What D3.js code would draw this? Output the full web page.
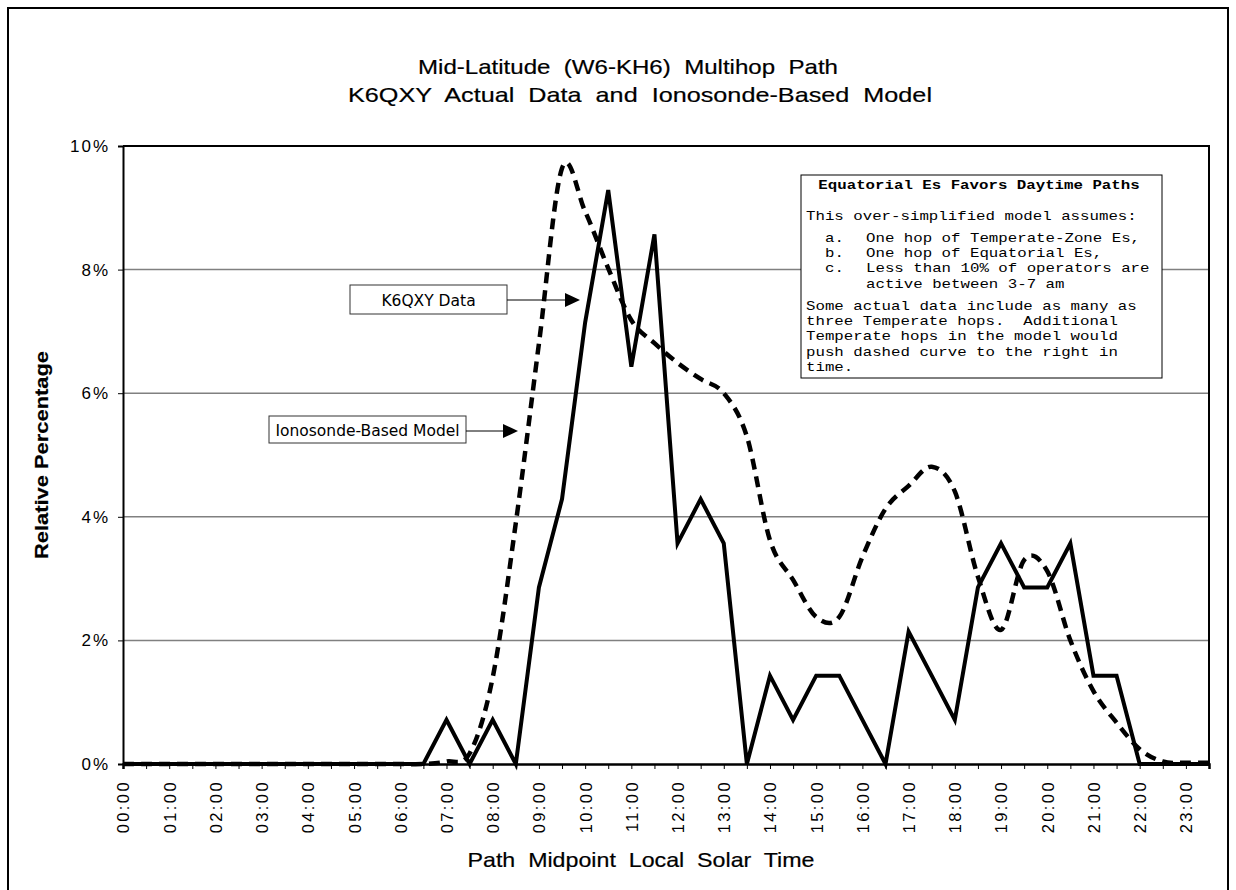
<!DOCTYPE html>
<html>
<head>
<meta charset="utf-8">
<script src="https://cdn.jsdelivr.net/npm/d3@7"></script>
<style>
  body { margin: 0; background: #fff; }
  text { white-space: pre; }
</style>
</head>
<body>
<svg id="chart" width="1236" height="890"></svg>
<script>
// half-hour categories, labelled every full hour
let slots = [];
for (let h = 0; h < 24; h++) {
    let hh = (h < 10 ? "0" : "") + h;
    slots.push(hh + ":00");
    slots.push(hh + ":30");
}

// K6QXY actual data (%), one value per half hour
let actualData = [
    0, 0, 0, 0, 0, 0, 0, 0, 0, 0, 0, 0, 0, 0,
    0.714, 0, 0.714, 0, 2.857, 4.286, 7.143, 9.286, 6.429, 8.571,
    3.571, 4.286, 3.571, 0, 1.429, 0.714, 1.429, 1.429, 0.714, 0,
    2.143, 1.429, 0.714, 2.857, 3.571, 2.857, 2.857, 3.571, 1.429, 1.429,
    0, 0, 0, 0
];

// ionosonde-based model (%), smoothed dashed curve
let modelData = [
    0, 0, 0, 0, 0, 0, 0, 0, 0, 0, 0, 0, 0, 0,
    0.04, 0.17, 1.4, 3.9, 6.8, 9.64, 8.94, 8.02, 7.18, 6.81,
    6.49, 6.23, 6.0, 5.3, 3.62, 2.98, 2.38, 2.38, 3.35, 4.13,
    4.5, 4.81, 4.41, 3.03, 2.17, 3.3, 3.12, 2.0, 1.18, 0.67,
    0.24, 0.04, 0.02, 0.02
];

let yTicks = [0, 2, 4, 6, 8, 10];

let noteLines = [
    "This over-simplified model assumes:"
];
let noteItems = [
    ["a.", "One hop of Temperate-Zone Es,"],
    ["b.", "One hop of Equatorial Es,"],
    ["c.", "Less than 10% of operators are"],
    ["", "active between 3-7 am"]
];
let noteTail = [
    "Some actual data include as many as",
    "three Temperate hops.  Additional",
    "Temperate hops in the model would",
    "push dashed curve to the right in",
    "time."
];

let svg = d3.select("#chart");
let plotLeft = 123, plotRight = 1209, plotTop = 146, plotBottom = 764;

let x = d3.scalePoint().domain(slots).range([plotLeft, plotRight]);
let y = d3.scaleLinear().domain([0, 10]).range([plotBottom, plotTop]);

// outer frame
svg.append("rect")
    .attr("x", 8).attr("y", 8)
    .attr("width", 1220).attr("height", 900)
    .attr("fill", "none").attr("stroke", "#000").attr("stroke-width", 2);

// condensed look: draw a larger font and squeeze it to the measured width
let titleFont = "'Liberation Sans', Arial, sans-serif";
function squeezed(sel, len, size) {
    return sel.attr("textLength", len).attr("lengthAdjust", "spacingAndGlyphs")
        .style("font-family", titleFont).style("font-size", size + "px")
        .attr("stroke", "#000").attr("stroke-width", 0.2);
}

// titles
squeezed(svg.append("text").attr("x", 628).attr("y", 74)
    .attr("text-anchor", "middle"), 420, 21)
    .text("Mid-Latitude  (W6-KH6)  Multihop  Path");
squeezed(svg.append("text").attr("x", 640).attr("y", 102)
    .attr("text-anchor", "middle"), 584, 21)
    .text("K6QXY  Actual  Data  and  Ionosonde-Based  Model");

// gridlines
svg.append("g").selectAll("line")
    .data(yTicks.filter(d => d > 0 && d < 10))
    .enter().append("line")
    .attr("x1", plotLeft).attr("x2", plotRight)
    .attr("y1", d => y(d)).attr("y2", d => y(d))
    .attr("stroke", "#808080").attr("stroke-width", 1.5);

// plot frame top/right
svg.append("path")
    .attr("d", `M${plotLeft},${y(10)}H${plotRight}V${plotBottom}`)
    .attr("fill", "none").attr("stroke", "#000").attr("stroke-width", 2);

// y axis
let yAxis = svg.append("g")
    .attr("transform", `translate(${plotLeft},0)`)
    .call(d3.axisLeft(y).tickValues(yTicks).tickFormat(d => d + "%")
        .tickSize(5).tickPadding(8));
yAxis.select(".domain").attr("stroke-width", 2);
yAxis.selectAll("text")
    .style("font-family", "'Liberation Sans', Arial, sans-serif")
    .style("font-size", "17px").style("letter-spacing", "2px")
    .attr("fill", "#000");

// x axis
let xAxis = svg.append("g")
    .attr("transform", `translate(0,${plotBottom})`)
    .call(d3.axisBottom(x).tickSize(5)
        .tickFormat(d => d.endsWith(":00") ? d : ""));
xAxis.select(".domain").attr("stroke-width", 2.5);
xAxis.selectAll("text")
    .attr("transform", "rotate(-90)")
    .attr("x", -16).attr("y", 0).attr("dy", "0.36em")
    .style("text-anchor", "end")
    .style("font-family", "'Liberation Sans', Arial, sans-serif")
    .style("font-size", "16.5px").style("letter-spacing", "2.4px")
    .attr("fill", "#000");

// axis titles
squeezed(svg.append("text")
    .attr("transform", "translate(48,455) rotate(-90)")
    .attr("text-anchor", "middle"), 208, 19)
    .style("font-weight", "bold")
    .text("Relative Percentage");
squeezed(svg.append("text").attr("x", 641).attr("y", 867)
    .attr("text-anchor", "middle"), 347, 21)
    .text("Path  Midpoint  Local  Solar  Time");

// model line (smoothed, dashed)
let modelLine = d3.line()
    .x((d, i) => x(slots[i]))
    .y(d => y(d))
    .curve(d3.curveCatmullRom.alpha(0));
svg.append("path")
    .datum(modelData)
    .attr("d", modelLine)
    .attr("fill", "none").attr("stroke", "#000")
    .attr("stroke-width", 4.5).attr("stroke-dasharray", "11,7");

// actual data line
let actualLine = d3.line()
    .x((d, i) => x(slots[i]))
    .y(d => y(d));
svg.append("path")
    .datum(actualData)
    .attr("d", actualLine)
    .attr("fill", "none").attr("stroke", "#000")
    .attr("stroke-width", 4).attr("stroke-linejoin", "miter");

// callout labels with arrows
function callout(label, bx, by, bw, bh, tipX, tipY) {
    let g = svg.append("g");
    g.append("rect").attr("x", bx).attr("y", by)
        .attr("width", bw).attr("height", bh)
        .attr("fill", "#fff").attr("stroke", "#333").attr("stroke-width", 1);
    g.append("text").attr("x", bx + bw / 2).attr("y", by + bh / 2 + 6)
        .attr("text-anchor", "middle")
        .style("font-family", "'DejaVu Sans', sans-serif").style("font-size", "15.5px")
        .text(label);
    g.append("line").attr("x1", bx + bw).attr("x2", tipX - 12)
        .attr("y1", tipY).attr("y2", tipY)
        .attr("stroke", "#000").attr("stroke-width", 1);
    g.append("path")
        .attr("d", `M${tipX},${tipY}L${tipX - 15},${tipY - 7}L${tipX - 15},${tipY + 7}Z`)
        .attr("fill", "#000");
}
callout("K6QXY Data", 350, 285, 157, 29, 580, 300);
callout("Ionosonde-Based Model", 269, 416, 197, 27, 518, 431);

// note box, Courier-like text: small mono glyphs stretched to the reference pitch
let mono = "'Liberation Mono', 'DejaVu Sans Mono', monospace";
let pitch = 9.45;
function monoText(sel, bold) {
    return sel.style("font-family", mono).style("font-size", "13px")
        .style("font-weight", bold ? "bold" : "normal")
        .attr("lengthAdjust", "spacingAndGlyphs")
        .attr("textLength", d => (typeof d === "string" ? d : d.t).length * pitch)
        .text(d => typeof d === "string" ? d : d.t);
}
let note = svg.append("g");
note.append("rect").attr("x", 801).attr("y", 175)
    .attr("width", 361).attr("height", 203)
    .attr("fill", "#fff").attr("stroke", "#000").attr("stroke-width", 1);
monoText(note.append("text").datum("Equatorial Es Favors Daytime Paths")
    .attr("x", 979).attr("y", 189).attr("text-anchor", "middle"), true);
monoText(note.selectAll(".intro").data(noteLines).enter().append("text")
    .attr("x", 806).attr("y", 220), false);
let items = note.selectAll(".item").data(noteItems).enter().append("g");
monoText(items.filter(d => d[0] !== "").append("text")
    .datum(d => d[0])
    .attr("x", 825).attr("y", d => 242 + noteItems.findIndex(e => e[0] === d) * 15.2), false);
monoText(items.append("text")
    .datum(d => d[1])
    .attr("x", 866).attr("y", d => 242 + noteItems.findIndex(e => e[1] === d) * 15.2), false);
monoText(note.selectAll(".tail").data(noteTail).enter().append("text")
    .attr("x", 806).attr("y", (d, i) => 310 + i * 15.2), false);
</script>
</body>
</html>
